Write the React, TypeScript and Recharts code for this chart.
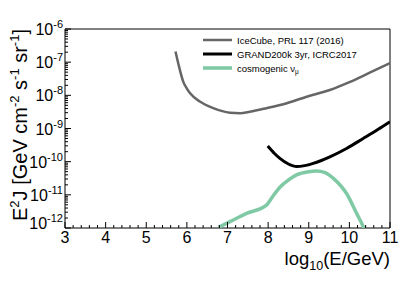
import React from 'react';
import { LineChart, Line, XAxis, YAxis, ReferenceArea, Legend, Label } from 'recharts';

// ---- data (x = log10(E/GeV), y = E^2 J in GeV cm^-2 s^-1 sr^-1) ----
const iceCubeX = [5.72, 5.8, 5.91, 6.0, 6.08, 6.32, 6.65, 7.06, 7.31, 7.55, 7.96, 8.46, 8.95, 9.52, 10.0, 10.5, 11.0];
const iceCubeY = [2.1e-7, 8e-8, 2.6e-8, 1.6e-8, 1.15e-8, 6.5e-9, 4.1e-9, 3.0e-9, 2.9e-9, 3.2e-9, 4.1e-9, 5.8e-9, 9.1e-9, 1.45e-8, 2.5e-8, 4.8e-8, 9.3e-8];

const grandX = [7.99, 8.15, 8.29, 8.5, 8.7, 8.9, 9.11, 9.52, 9.93, 10.34, 10.7, 11.0];
const grandY = [2.95e-10, 1.8e-10, 1.26e-10, 8.5e-11, 7.1e-11, 7.6e-11, 8.9e-11, 1.4e-10, 2.5e-10, 5.0e-10, 9.3e-10, 1.6e-9];

const cosmoX = [6.78, 7.06, 7.47, 7.96, 8.1, 8.29, 8.5, 8.7, 9.0, 9.19, 9.4, 9.6, 9.8, 9.93, 10.18, 10.34, 10.42];
const cosmoY = [1.05e-12, 1.55e-12, 2.75e-12, 4.9e-12, 8.5e-12, 1.7e-11, 2.8e-11, 4.0e-11, 5.0e-11, 5.25e-11, 4.7e-11, 3.2e-11, 1.8e-11, 1.1e-11, 2.75e-12, 1.1e-12, 6.3e-13];

const xMajorTicks = [3, 4, 5, 6, 7, 8, 9, 10, 11];
const yDecades = [-12, -11, -10, -9, -8, -7, -6];
const legendLabels = ['IceCube, PRL 117 (2016)', 'GRAND200k 3yr, ICRC2017', 'cosmogenic'];

const COLORS = ['#666666', '#000000', '#7fc9a5'];
const WIDTHS = [2.5, 3, 3.5];
const FONT = '"Liberation Sans", Arial, Helvetica, sans-serif';

const toPts = (xs: number[], ys: number[]) => xs.map((x, i) => ({ x, y: ys[i] }));
const iceData = toPts(iceCubeX, iceCubeY);
const grandData = toPts(grandX, grandY);
const cosmoData = toPts(cosmoX, cosmoY);

// tick lists
const xTicks: number[] = [];
for (let i = 0; i < xMajorTicks.length - 1; i++) {
  for (let k = 0; k < 5; k++) xTicks.push(Math.round((xMajorTicks[i] + k * 0.2) * 10) / 10);
}
xTicks.push(xMajorTicks[xMajorTicks.length - 1]);

const yTicks: number[] = [];
for (let i = 0; i < yDecades.length - 1; i++) {
  for (let m = 1; m <= 9; m++) yTicks.push(m * Math.pow(10, yDecades[i]));
}
yTicks.push(Math.pow(10, yDecades[yDecades.length - 1]));

const XTick = (props: any) => {
  const { x, y, payload } = props;
  const v = payload.value as number;
  const major = Math.abs(v - Math.round(v)) < 1e-6;
  return (
    <g>
      <line x1={x} x2={x} y1={y} y2={y - (major ? 6 : 3)} stroke="#000" strokeWidth={1} />
      {major && (
        <text x={x} y={y + 15} textAnchor="middle" fontSize={16} fontFamily={FONT} fill="#000">
          {String(Math.round(v))}
        </text>
      )}
    </g>
  );
};

const YTick = (props: any) => {
  const { x, y, payload } = props;
  const v = payload.value as number;
  const lg = Math.log10(v);
  const major = Math.abs(lg - Math.round(lg)) < 1e-6;
  const e = Math.round(lg);
  const base = e === -12 ? y + 1 : y + 6;
  return (
    <g>
      <line x1={x} x2={x + (major ? 6 : 3)} y1={y} y2={y} stroke="#000" strokeWidth={1} />
      {major && (
        <text x={x - 2} y={base} textAnchor="end" fontSize={16} fontFamily={FONT} fill="#000">
          10
          <tspan dy={-7} fontSize={11}>{String(e)}</tspan>
        </text>
      )}
    </g>
  );
};

const LegendContent = () => (
  <svg width={180} height={46} style={{ display: 'block', overflow: 'visible' }}>
    {legendLabels.map((lab, i) => (
      <g key={lab}>
        <line x1={3} x2={32} y1={7 + i * 14} y2={7 + i * 14} stroke={COLORS[i]} strokeWidth={WIDTHS[i]} />
        <text x={37} y={10.5 + i * 14} fontSize={9.5} fontFamily={FONT} fill="#000">
          {lab}
          {i === 2 && (
            <>
              <tspan> ν</tspan>
              <tspan dy={2.5} fontSize={6.5}>μ</tspan>
            </>
          )}
        </text>
      </g>
    ))}
  </svg>
);

const XTitle = () => (
  <text x={390} y={265} textAnchor="end" fontSize={18.5} fontFamily={FONT} fill="#000">
    log
    <tspan dy={5} fontSize={12.5}>10</tspan>
    <tspan dy={-5}>(E/GeV)</tspan>
  </text>
);

const YTitle = () => (
  <text transform="rotate(-90)" x={-29} y={27} textAnchor="end" fontSize={20} fontFamily={FONT} fill="#000">
    E
    <tspan dy={-8} fontSize={13}>2</tspan>
    <tspan dy={8}>J [GeV cm</tspan>
    <tspan dy={-8} fontSize={13}>-2</tspan>
    <tspan dy={8}> s</tspan>
    <tspan dy={-8} fontSize={13}>-1</tspan>
    <tspan dy={8}> sr</tspan>
    <tspan dy={-8} fontSize={13}>-1</tspan>
    <tspan dy={8}>]</tspan>
  </text>
);

export default function App() {
  return (
    <div style={{ position: 'absolute', left: 0, top: 0, width: 415, height: 281, background: '#fff' }}>
      <LineChart width={415} height={281} margin={{ top: 29, right: 25, bottom: 0, left: 0 }}>
        <XAxis
          type="number"
          dataKey="x"
          domain={[3, 11]}
          ticks={xTicks}
          interval={0}
          allowDataOverflow
          height={53}
          tickSize={0}
          tickMargin={0}
          axisLine={false}
          tickLine={false}
          tick={<XTick />}
        >
          <Label content={<XTitle />} />
        </XAxis>
        <YAxis
          type="number"
          dataKey="y"
          scale="log"
          domain={[1e-12, 1e-6]}
          ticks={yTicks}
          interval={0}
          allowDataOverflow
          width={65}
          tickSize={0}
          tickMargin={0}
          axisLine={false}
          tickLine={false}
          tick={<YTick />}
        >
          <Label content={<YTitle />} />
        </YAxis>
        <ReferenceArea x1={3} x2={11} y1={1e-12} y2={1e-6} fill="none" stroke="#000" strokeWidth={1} strokeOpacity={1} fillOpacity={0} />
        <Line data={iceData} dataKey="y" type="monotone" stroke={COLORS[0]} strokeWidth={WIDTHS[0]} dot={false} isAnimationActive={false} />
        <Line data={grandData} dataKey="y" type="monotone" stroke={COLORS[1]} strokeWidth={WIDTHS[1]} dot={false} isAnimationActive={false} />
        <Line data={cosmoData} dataKey="y" type="monotone" stroke={COLORS[2]} strokeWidth={WIDTHS[2]} dot={false} isAnimationActive={false} />
        <Legend
          content={<LegendContent />}
          wrapperStyle={{ position: 'absolute', left: 200, top: 33, width: 0, height: 0, overflow: 'visible' }}
        />
      </LineChart>
    </div>
  );
}
